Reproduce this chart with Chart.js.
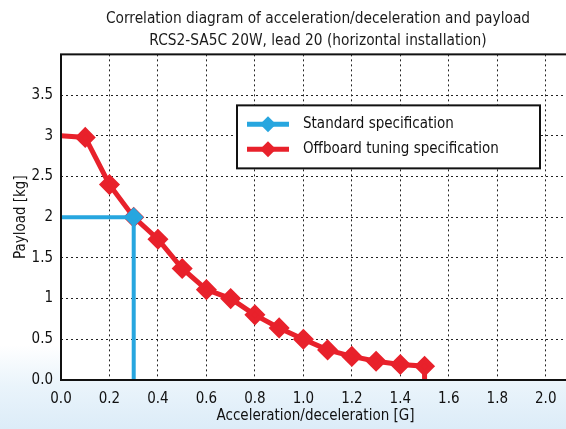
<!DOCTYPE html>
<html>
<head>
<meta charset="utf-8">
<script src="https://cdn.jsdelivr.net/npm/chart.js@4"></script>
<style>
  html, body { margin: 0; padding: 0; overflow: hidden; }
  body {
    width: 566px; height: 429px;
    background: linear-gradient(to bottom, #ffffff 0px, #ffffff 345px, #eaf4fb 385px, #dcecf8 429px);
  }
  #wrap { width: 636px; height: 429px; position: relative; }
</style>
</head>
<body>
<div id="wrap"><canvas id="chart"></canvas></div>
<script>
var titleLines = ['Correlation diagram of acceleration/deceleration and payload',
                  'RCS2-SA5C 20W, lead 20 (horizontal installation)'];
var seriesNames = ['Standard specification', 'Offboard tuning specification'];
var xTicks = [0, 0.2, 0.4, 0.6, 0.8, 1.0, 1.2, 1.4, 1.6, 1.8, 2.0];
var yTicks = [0, 0.5, 1, 1.5, 2, 2.5, 3, 3.5, 4];

// standard spec: corner at 0.3 G / 2 kg
var standardX = [0, 0.3, 0.3];
var standardY = [2, 2, 0];

// offboard tuning spec
var offboardX = [0, 0.1, 0.2, 0.3, 0.4, 0.5, 0.6, 0.7, 0.8, 0.9, 1.0, 1.1, 1.2, 1.3, 1.4, 1.5, 1.5];
var offboardY = [3, 2.98, 2.4, 2.0, 1.73, 1.37, 1.11, 1.0, 0.8, 0.64, 0.5, 0.37, 0.29, 0.23, 0.19, 0.17, 0];

var FONT = '"DejaVu Sans Condensed", "DejaVu Sans", sans-serif';

function toPoints(xs, ys) {
    return xs.map(function(x, i) { return { x: x, y: ys[i] }; });
}
// markers everywhere except the line ends on the axes
function markerRadii(n) {
    var r = [];
    for (var i = 0; i < n; i++) r.push(i === 0 || i === n - 1 ? 0 : 7);
    return r;
}

var blue = '#27a6df';
var red = '#e8212b';

// white plot area, axis frame and the legend box inside the plot
var plotFrame = {
    id: 'plotFrame',
    afterLayout: function(chart) {
        // center the title over the whole canvas, not just the padded box
        var t = chart.titleBlock;
        if (t) { t.left = 0; t.right = chart.width; t.width = chart.width; }
    },
    beforeDraw: function(chart) {
        var a = chart.chartArea, ctx = chart.ctx;
        ctx.save();
        ctx.fillStyle = '#ffffff';
        ctx.fillRect(a.left, a.top, a.right - a.left, a.bottom - a.top);
        ctx.restore();
    },
    afterDatasetsDraw: function(chart) {
        var a = chart.chartArea, ctx = chart.ctx;
        ctx.save();
        ctx.strokeStyle = '#111';
        ctx.lineWidth = 2;
        ctx.strokeRect(a.left, a.top, a.right - a.left, a.bottom - a.top);

        var bx = a.left + 176, by = a.top + 51, bw = 303, bh = 63;
        ctx.fillStyle = '#ffffff';
        ctx.fillRect(bx, by, bw, bh);
        ctx.strokeRect(bx, by, bw, bh);
        chart.data.datasets.forEach(function(ds, i) {
            var y = by + 19 + i * 25;
            var x0 = bx + 10, x1 = bx + 52;
            ctx.strokeStyle = ds.borderColor;
            ctx.lineWidth = 5;
            ctx.beginPath();
            ctx.moveTo(x0, y);
            ctx.lineTo(x1, y);
            ctx.stroke();
            ctx.fillStyle = ds.borderColor;
            ctx.beginPath();
            var cx = (x0 + x1) / 2, r = 8;
            ctx.moveTo(cx, y - r); ctx.lineTo(cx + r, y); ctx.lineTo(cx, y + r); ctx.lineTo(cx - r, y);
            ctx.closePath();
            ctx.fill();
            ctx.fillStyle = '#111';
            ctx.font = '15px ' + FONT;
            ctx.textBaseline = 'middle';
            ctx.fillText(ds.label, bx + 66, y);
        });
        ctx.restore();
    }
};

var dataSets = [
    {
        label: seriesNames[0],
        data: toPoints(standardX, standardY),
        borderColor: blue,
        backgroundColor: blue,
        borderWidth: 4,
        pointStyle: 'rectRot',
        pointRadius: markerRadii(standardX.length),
        pointHoverRadius: markerRadii(standardX.length),
        showLine: true,
        clip: false
    },
    {
        label: seriesNames[1],
        data: toPoints(offboardX, offboardY),
        borderColor: red,
        backgroundColor: red,
        borderWidth: 5,
        pointStyle: 'rectRot',
        pointRadius: markerRadii(offboardX.length),
        pointHoverRadius: markerRadii(offboardX.length),
        showLine: true,
        clip: false
    }
];

function setTicks(values) {
    return function(scale) {
        scale.ticks = values.map(function(v) { return { value: v }; });
    };
}

new Chart(document.getElementById('chart'), {
    type: 'scatter',
    data: { datasets: dataSets },
    options: {
        responsive: true,
        maintainAspectRatio: false,
        animation: false,
        layout: { padding: { left: 0, right: 66, top: 6, bottom: 0 } },
        plugins: {
            legend: { display: false },
            tooltip: { enabled: false },
            title: {
                display: true,
                text: titleLines,
                color: '#1a1a1a',
                font: { family: FONT, size: 15.3, weight: 'normal', lineHeight: 1.45 },
                padding: { top: 2, bottom: 2 }
            }
        },
        scales: {
            x: {
                type: 'linear',
                min: 0,
                max: 2.1,
                afterBuildTicks: setTicks(xTicks),
                border: { display: false, dash: [2, 3] },
                grid: { color: '#222', lineWidth: 1, drawTicks: false },
                ticks: {
                    color: '#111',
                    padding: 10,
                    maxRotation: 0,
                    autoSkip: false,
                    font: { family: FONT, size: 15 },
                    callback: function(v) { return v.toFixed(1); }
                },
                title: {
                    display: true,
                    text: 'Acceleration/deceleration [G]',
                    color: '#111',
                    font: { family: FONT, size: 15 },
                    padding: { top: 0, bottom: 4 }
                },
                afterFit: function(s) { s.height = 49; }
            },
            y: {
                type: 'linear',
                min: 0,
                max: 4,
                afterBuildTicks: setTicks(yTicks),
                border: { display: false, dash: [2, 3] },
                grid: { color: '#222', lineWidth: 1, drawTicks: false },
                ticks: {
                    color: '#111',
                    padding: 8,
                    autoSkip: false,
                    font: { family: FONT, size: 15 },
                    callback: function(v) {
                        if (v === 0) return '0.0';
                        if (v >= 4) return '';
                        return String(v);
                    }
                },
                title: {
                    display: true,
                    text: 'Payload [kg]',
                    color: '#111',
                    font: { family: FONT, size: 15 },
                    padding: { top: 12, bottom: 0 }
                },
                afterFit: function(s) { s.width = 61; }
            }
        }
    },
    plugins: [plotFrame]
});
</script>
</body>
</html>
